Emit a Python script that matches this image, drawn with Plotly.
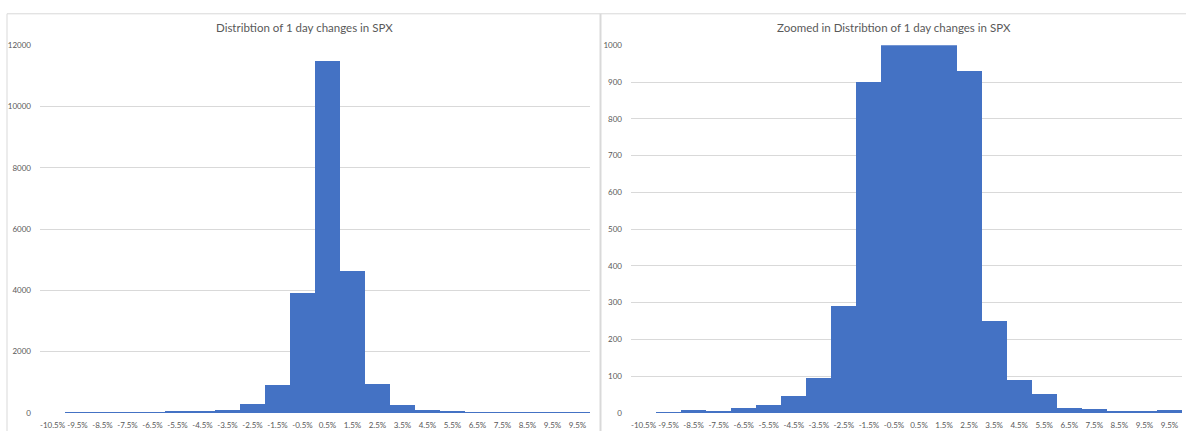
import plotly.graph_objects as go

# Data
bin_labels = ["-10.5%", "-9.5%", "-8.5%", "-7.5%", "-6.5%", "-5.5%", "-4.5%", "-3.5%",
              "-2.5%", "-1.5%", "-0.5%", "0.5%", "1.5%", "2.5%", "3.5%", "4.5%",
              "5.5%", "6.5%", "7.5%", "8.5%", "9.5%", "9.5%"]
counts = [0, 1, 6, 4, 13, 21, 46, 94, 291, 900, 3920, 11480, 4610, 929, 249, 88,
          50, 12, 9, 5, 5, 7]
left_title = "Distribtion of 1 day changes in SPX"
right_title = "Zoomed in Distribtion of 1 day changes in SPX"
left_yticks = [0, 2000, 4000, 6000, 8000, 10000, 12000]
right_yticks = [0, 100, 200, 300, 400, 500, 600, 700, 800, 900, 1000]

W, H = 1186, 436
BAR = "#4472C4"
GRID = "#D9D9D9"
TXT = "#595959"
FONT = "Lato, 'Liberation Sans', sans-serif"

xpos = list(range(len(bin_labels)))

fig = go.Figure()
fig.add_trace(go.Bar(x=xpos, y=counts, width=1, marker=dict(color=BAR, line=dict(width=0)),
                     xaxis="x", yaxis="y", showlegend=False))
fig.add_trace(go.Bar(x=xpos, y=counts, width=1, marker=dict(color=BAR, line=dict(width=0)),
                     xaxis="x2", yaxis="y2", showlegend=False))

def px_x(v):
    return v / W

def px_y(v):
    return 1 - v / H

ydom = [px_y(417.5), px_y(41.3)]
xaxis_common = dict(tickmode="array", tickvals=xpos, ticktext=bin_labels, range=[-0.5, len(bin_labels) - 0.5],
                    showgrid=False, zeroline=False, showline=False, ticks="",
                    tickfont=dict(family=FONT, size=8, color=TXT), tickangle=0, fixedrange=True,
                    ticklabelstandoff=6)
yaxis_common = dict(showgrid=True, gridcolor=GRID, gridwidth=1, zeroline=False, showline=False, ticks="",
                    tickfont=dict(family=FONT, size=8, color=TXT), fixedrange=True,
                    tickmode="array", ticklabelstandoff=8)

fig.update_layout(
    width=W, height=H,
    margin=dict(l=0, r=0, t=0, b=0),
    paper_bgcolor="white", plot_bgcolor="white",
    bargap=0,
    xaxis=dict(domain=[px_x(40), px_x(590)], anchor="y", **xaxis_common),
    yaxis=dict(domain=ydom, anchor="x", range=[0, 12000], tickvals=left_yticks,
               ticktext=[str(v) for v in left_yticks], **yaxis_common),
    xaxis2=dict(domain=[px_x(631), px_x(1182)], anchor="y2", **xaxis_common),
    yaxis2=dict(domain=ydom, anchor="x2", range=[0, 1000], tickvals=right_yticks,
                ticktext=[str(v) for v in right_yticks], **yaxis_common),
    annotations=[
        dict(text=left_title, x=px_x(304), y=px_y(23), xref="paper", yref="paper",
             showarrow=False, xanchor="center", yanchor="middle",
             font=dict(family=FONT, size=11.5, color=TXT)),
        dict(text=right_title, x=px_x(894), y=px_y(23), xref="paper", yref="paper",
             showarrow=False, xanchor="center", yanchor="middle",
             font=dict(family=FONT, size=11.5, color=TXT)),
    ],
    shapes=[
        dict(type="line", xref="paper", yref="paper", x0=px_x(7), x1=1, y0=px_y(9), y1=px_y(9),
             line=dict(color=GRID, width=1)),
        dict(type="line", xref="paper", yref="paper", x0=px_x(7), x1=px_x(7), y0=px_y(9), y1=0,
             line=dict(color=GRID, width=1)),
        dict(type="line", xref="paper", yref="paper", x0=px_x(600.5), x1=px_x(600.5), y0=px_y(9), y1=0,
             line=dict(color=GRID, width=2)),
    ],
)

fig.write_html("out.html")
